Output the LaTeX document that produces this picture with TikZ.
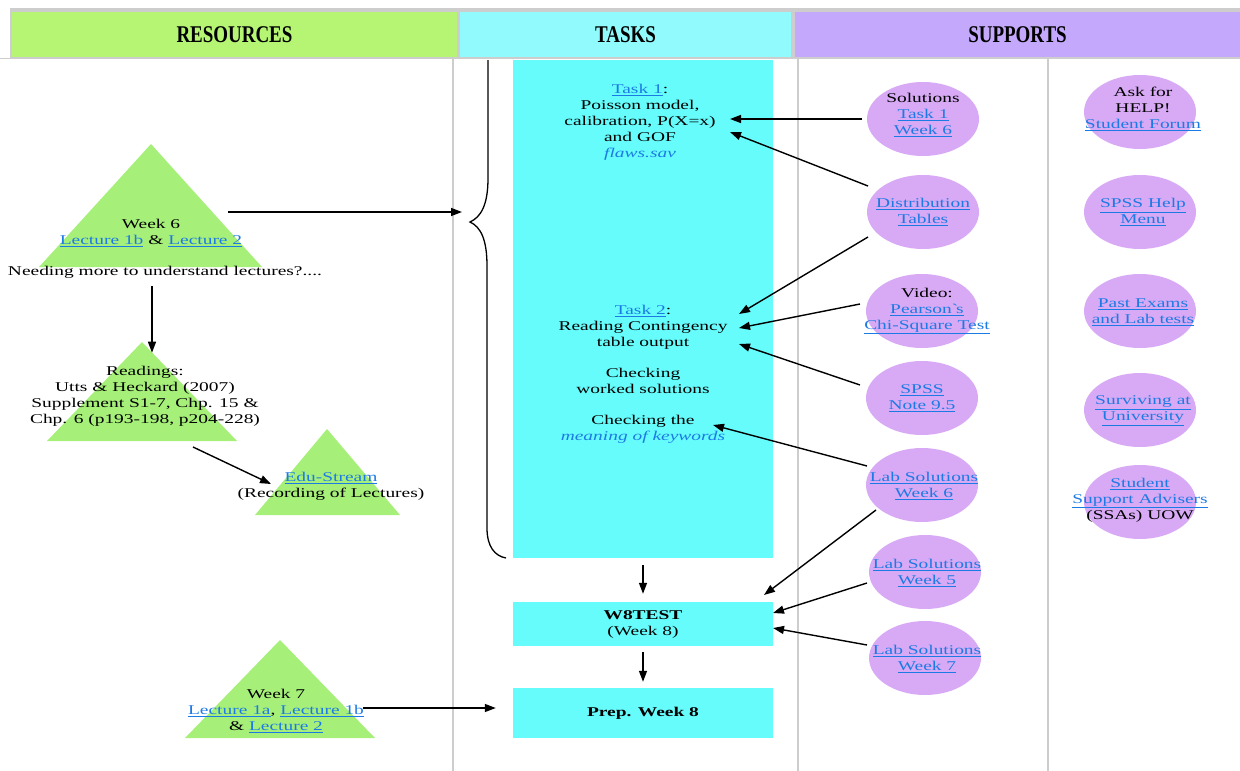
\documentclass[tikz,border=0pt]{standalone}
\usepackage{fontspec}
\setmainfont{Liberation Serif}[FakeStretch=1.45]
\newfontfamily\hdrfont{Liberation Serif}[FakeStretch=0.79]
\usetikzlibrary{arrows.meta,shapes.geometric,calc}

\definecolor{hdrgreen}{RGB}{181,245,115}
\definecolor{hdrcyan}{RGB}{145,250,252}
\definecolor{hdrlilac}{RGB}{196,168,252}
\definecolor{trigreen}{RGB}{166,240,122}
\definecolor{taskcyan}{RGB}{102,252,252}
\definecolor{bubble}{RGB}{216,170,245}
\definecolor{linkblue}{RGB}{28,122,228}
\definecolor{framegray}{RGB}{205,205,205}

\newcommand\lnk[1]{\textcolor{linkblue}{\underline{#1}}}

\tikzset{
  txt/.style={font=\fontsize{13.4}{16}\selectfont, align=center, inner sep=0pt, text=black},
  hdr/.style={font=\hdrfont\bfseries\fontsize{24}{26}\selectfont, inner sep=0pt, text=black},
  taskbox/.style={fill=taskcyan, inner sep=0pt, minimum width=260pt},
  bub/.style={ellipse, fill=bubble, minimum width=112pt, minimum height=74pt, inner sep=0pt},
  arr/.style={-{Triangle[length=11pt,width=8pt]}, line width=1.4pt, black},
  gridline/.style={framegray, line width=2pt},
}

\begin{document}
\begin{tikzpicture}[x=1pt, y=-1pt]
\useasboundingbox (0,0) rectangle (1240,771);

% header band
\fill[framegray] (10,8) rectangle (1240,59);
\draw[framegray, line width=1.5pt] (0,58.5) -- (12,58.5);
\node[hdr, fill=hdrgreen, minimum width=445pt, minimum height=45pt] (hres) at (234.5,34.5) {RESOURCES};
\node[hdr, fill=hdrcyan, minimum width=331pt, minimum height=45pt] (htask) at (625.5,34.5) {TASKS};
\node[hdr, fill=hdrlilac, minimum width=445pt, minimum height=45pt] (hsup) at (1017.5,34.5) {SUPPORTS};

% column rules
\draw[gridline] (453,59) -- (453,771);
\draw[gridline] (798,59) -- (798,771);
\draw[gridline] (1048,59) -- (1048,771);

% resources: triangles
\fill[trigreen] (151,144) -- (262,267) -- (39,267) -- cycle;
\fill[trigreen] (142,342) -- (237,441) -- (47,441) -- cycle;
\fill[trigreen] (327,429) -- (400,515) -- (255,515) -- cycle;
\fill[trigreen] (280,640) -- (375,738) -- (185,738) -- cycle;

\node[txt] (w6) at (151,233) {Week 6\\\lnk{Lecture 1b} \& \lnk{Lecture 2}};
\node[txt] (need) at (165,272) {Needing more to understand lectures?....};
\node[txt] (read) at (145,396) {Readings:\\Utts \& Heckard (2007)\\Supplement S1-7, Chp. 15 \&\\Chp. 6 (p193-198, p204-228)};
\node[txt] (edu) at (331,486) {\lnk{Edu-Stream}\\(Recording of Lectures)};
\node[txt] (w7) at (276,711) {Week 7\\\lnk{Lecture 1a}, \lnk{Lecture 1b}\\\& \lnk{Lecture 2}};

% tasks column
\node[taskbox, minimum height=498pt] (tbox) at (643,309) {};
\node[taskbox, minimum height=44pt] (w8) at (643,624) {};
\node[taskbox, minimum height=50pt] (prep) at (643,713) {};

\node[txt] (t1) at (640,122) {\lnk{Task 1}:\\Poisson model,\\calibration, P(X=x)\\and GOF\\\textcolor{linkblue}{\itshape flaws.sav}};
\node[txt] (t2) at (643,327) {\lnk{Task 2}:\\Reading Contingency\\table output};
\node[txt] (chk1) at (643,381) {Checking\\worked solutions};
\node[txt] (chk2) at (643,429) {Checking the\\\textcolor{linkblue}{\itshape meaning of keywords}};
\node[txt] (w8t) at (w8) {\textbf{W8TEST}\\(Week 8)};
\node[txt] (prept) at (prep) {\textbf{Prep. Week 8}};

% brace grouping the week 6 tasks
\draw[black, line width=1.3pt] (488,60) -- (488,178)
  .. controls (488,205) and (481,217) .. (470,222)
  .. controls (481,227) and (487,240) .. (487,266)
  -- (487,528) .. controls (487,547) and (495,556) .. (506,558);

% supports: first column
\node[bub] (sol) at (923,119) {};
\node[txt] at (923,115) {Solutions\\\lnk{Task 1}\\\lnk{Week 6}};
\node[bub] (dist) at (923,212) {};
\node[txt] at (dist) {\lnk{Distribution}\\\lnk{Tables}};
\node[bub] (vid) at (922,311) {};
\node[txt] at (927,311) {Video:\\\lnk{Pearson\textasciigrave s}\\\lnk{Chi-Square Test}};
\node[bub] (spn) at (922,398) {};
\node[txt] at (922,398) {\lnk{SPSS}\\\lnk{Note 9.5}};
\node[bub] (lw6) at (922,485) {};
\node[txt] at (924,486) {\lnk{Lab Solutions}\\\lnk{Week 6}};
\node[bub] (lw5) at (925,572) {};
\node[txt] at (927,573) {\lnk{Lab Solutions}\\\lnk{Week 5}};
\node[bub] (lw7) at (925,658) {};
\node[txt] at (927,659) {\lnk{Lab Solutions}\\\lnk{Week 7}};

% supports: second column
\node[bub] (help) at (1140,112) {};
\node[txt] at (1143,109) {Ask for\\HELP!\\\lnk{Student Forum}};
\node[bub] (spsh) at (1140,212) {};
\node[txt] at (1143,212) {\lnk{SPSS Help}\\\lnk{Menu}};
\node[bub] (past) at (1140,311) {};
\node[txt] at (1143,312) {\lnk{Past Exams}\\\lnk{and Lab tests}};
\node[bub] (surv) at (1140,410) {};
\node[txt] at (1143,411) {\lnk{Surviving at}\\\lnk{University}};
\node[bub] (ssa) at (1140,502) {};
\node[txt] at (1140,500) {\lnk{Student}\\\lnk{Support Advisers}\\(SSAs) UOW};

% arrow ends beside the task texts
\coordinate (t1a) at (730,119);
\coordinate (t1b) at (730,132);
\coordinate (t2a) at (739,314);
\coordinate (t2b) at (739,328);
\coordinate (t2c) at (739,344);
\coordinate (chk2e) at (713,425);
\coordinate (w8a) at (764,595);
\coordinate (w8b) at (773,613);
\coordinate (w8c) at (773,628);
\coordinate (brace) at (462,212);

% resource arrows
\draw[arr] ($(w6)+(77,-21)$) -- (brace);
\draw[arr] ($(need)+(-13,14)$) -- ($(read.north)+(7,-13)$);
\draw[arr] ($(read)+(48,51)$) -- ($(edu)+(-60,-2)$);
\draw[arr] ($(w7)+(87,-3)$) -- ($(prep.west)+(-17,-5)$);

% task flow
\draw[arr] ($(tbox.south)+(0,7)$) -- ($(w8.north)+(0,-8)$);
\draw[arr] ($(w8.south)+(0,6)$) -- ($(prep.north)+(0,-6)$);

% support arrows
\draw[arr] ($(sol)+(-61,0)$) -- (t1a);
\draw[arr] ($(dist)+(-55,-26)$) -- (t1b);
\draw[arr] ($(dist)+(-55,25)$) -- (t2a);
\draw[arr] ($(vid)+(-62,-7)$) -- (t2b);
\draw[arr] ($(spn)+(-62,-13)$) -- (t2c);
\draw[arr] ($(lw6)+(-55,-19)$) -- (chk2e);
\draw[arr] ($(lw6)+(-46,25)$) -- (w8a);
\draw[arr] ($(lw5)+(-58,11)$) -- (w8b);
\draw[arr] ($(lw7)+(-58,-13)$) -- (w8c);
\end{tikzpicture}
\end{document}
